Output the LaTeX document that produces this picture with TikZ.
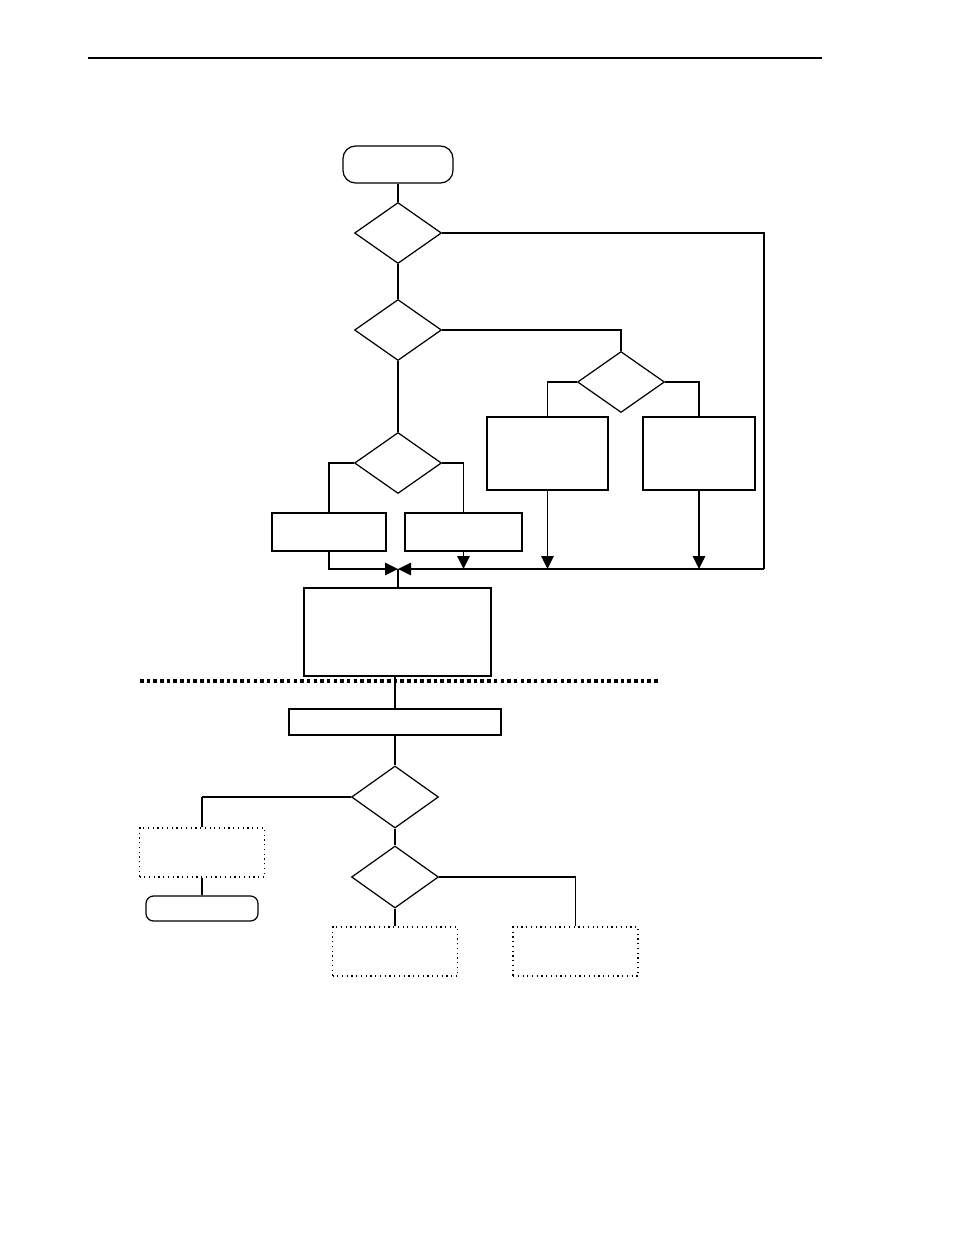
\documentclass[tikz,border=0pt]{standalone}
\usepackage{tikz}
\usetikzlibrary{arrows.meta,shapes.geometric}

\begin{document}
\begin{tikzpicture}[x=0.02cm,y=-0.02cm,>={Triangle[length=2.6mm,width=2.5mm]},
    line width=0.7pt,
    proc/.style={rectangle,draw,inner sep=0pt},
    term/.style={rectangle,draw,rounded corners=2.5mm,inner sep=0pt},
    ext/.style={rectangle,draw,dotted,inner sep=0pt},
    choice/.style={diamond,draw,inner sep=0pt,minimum width=1.74cm,minimum height=1.22cm},
    trunk/.style={line width=1.3pt}]
  \useasboundingbox (0,0) rectangle (954,1235);
  \draw (88,58) -- (822,58);
  % upper part
  \node[term,minimum width=2.2cm,minimum height=0.74cm] (s0) at (398,164.5) {};
  \node[choice] (q1) at (398,233) {};
  \node[choice] (q2) at (398,330) {};
  \node[choice] (q3) at (621,382) {};
  \node[proc,minimum width=2.42cm,minimum height=1.46cm] (b1) at (547.5,453.5) {};
  \node[proc,minimum width=2.24cm,minimum height=1.46cm] (b2) at (699,453.5) {};
  \node[choice] (q4) at (398,463) {};
  \node[proc,minimum width=2.28cm,minimum height=0.76cm] (b3) at (329,532) {};
  \node[proc,minimum width=2.34cm,minimum height=0.76cm] (b4) at (463.5,532) {};
  \coordinate (m0) at (398,569);
  \coordinate (m1) at (764,569);
  \node[proc,minimum width=3.74cm,minimum height=1.76cm] (b5) at (397.5,632) {};
  \draw[trunk] (s0) -- (q1);
  \draw[trunk] (q1) -- (q2);
  \draw[trunk] (q2) -- (q4);
  \draw (q1.east) -| (m1);
  \draw (q2.east) -| (q3.north);
  \draw (q3.west) -| (b1.north);
  \draw (q3.east) -| (b2.north);
  \draw (q4.west) -| (b3.north);
  \draw (q4.east) -| (b4.north);
  \draw[->] (m1) -- (m0);
  \draw[->] (b3.south) |- (m0);
  \draw[->] (b4.south) -- (b4.south |- m0);
  \draw[->] (b1.south) -- (b1.south |- m0);
  \draw[->] (b2.south) -- (b2.south |- m0);
  \draw (m0) -- (m0 |- b5.north);
  % separator
  \draw[line width=1.8pt,dash pattern=on 2pt off 1.8pt] (140,681) -- (658,681);
  % lower part
  \node[proc,minimum width=4.24cm,minimum height=0.52cm] (b6) at (395,722) {};
  \node[choice,minimum height=1.24cm] (q5) at (395,797) {};
  \node[ext,minimum width=2.5cm,minimum height=0.98cm] (b7) at (202,852.5) {};
  \node[term,rounded corners=1.5mm,minimum width=2.24cm,minimum height=0.5cm] (s1) at (202,908.5) {};
  \node[choice,minimum height=1.24cm] (q6) at (395,877) {};
  \node[ext,minimum width=2.5cm,minimum height=0.98cm] (b8) at (395,951.5) {};
  \node[ext,minimum width=2.5cm,minimum height=0.98cm] (b9) at (575.5,951.5) {};
  \draw (b5.south -| b6.north) -- (b6.north);
  \draw (b6.south) -- (q5.north);
  \draw (q5.west) -- (q5.west -| b7.north);
  \draw[trunk] (q5.west -| b7.north) -- (b7.north);
  \draw[trunk] (b7.south) -- (s1.north);
  \draw (q5.south) -- (q6.north);
  \draw (q6.east) -| (b9.north);
  \draw (q6.south) -- (b8.north);
\end{tikzpicture}
\end{document}
